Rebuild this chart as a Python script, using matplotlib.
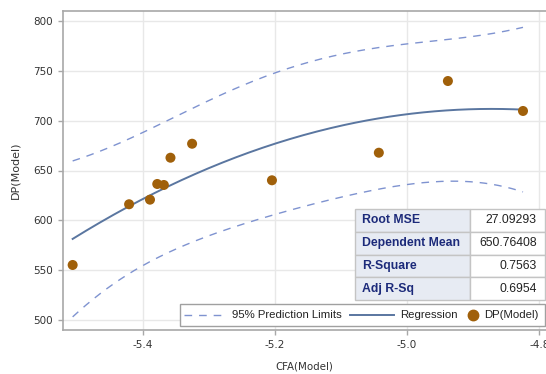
"""
Quadratic fit plot of DP(Model) against CFA(Model) with 95% prediction limits
and a small table of fit statistics.
"""

import numpy as np
import matplotlib
matplotlib.use("Agg")
import matplotlib.pyplot as plt
from matplotlib.patches import Rectangle

cfa = [-5.506, -5.4206, -5.389, -5.378, -5.368, -5.358, -5.3253,
       -5.2045, -5.0428, -4.9383, -4.8247]
dp = [555.4, 616.2, 620.8, 636.5, 635.5, 662.8, 676.8,
      640.2, 667.8, 739.6, 709.6]

# Fit statistics shown in the inset table
stat_labels = ["Root MSE", "Dependent Mean", "R-Square", "Adj R-Sq"]
stat_values = ["27.09293", "650.76408", "0.7563", "0.6954"]

legend_labels = ["95% Prediction Limits", "Regression", "DP(Model)"]

x_ticks = [-5.4, -5.2, -5.0, -4.8]
x_tick_labels = ["-5.4", "-5.2", "-5.0", "-4.8"]
y_ticks = [500, 550, 600, 650, 700, 750, 800]

T_975_DF8 = 2.306  # t quantile for 95% limits, n - 3 = 8 df

MARKER_COLOR = "#a0600a"
FIT_COLOR = "#5a76a0"
LIMIT_COLOR = "#7f93d0"
NAVY = "#1c2a7a"
SPINE_COLOR = "#a8a8a8"
TEXT_COLOR = "#333333"
DASHES = (5.5, 5)
NARROW = ["Liberation Sans Narrow", "Liberation Sans", "DejaVu Sans"]

# Axes box in figure pixels (546 x 374 canvas)
AX_LEFT, AX_RIGHT, AX_TOP, AX_BOTTOM = 63, 546, 11, 330


def quadratic_fit(x, y, x_new):
    """Least squares quadratic with 95% prediction limits at x_new."""
    x = np.asarray(x)
    y = np.asarray(y)
    X = np.column_stack([np.ones_like(x), x, x ** 2])
    beta, *_ = np.linalg.lstsq(X, y, rcond=None)
    resid = y - X @ beta
    s2 = resid @ resid / (len(x) - 3)
    xtx_inv = np.linalg.inv(X.T @ X)
    X0 = np.column_stack([np.ones_like(x_new), x_new, x_new ** 2])
    y_hat = X0 @ beta
    lev = np.einsum("ij,jk,ik->i", X0, xtx_inv, X0)
    half = T_975_DF8 * np.sqrt(s2 * (1 + lev))
    return y_hat, y_hat - half, y_hat + half


def ax_frac(px, py):
    """Convert figure pixel position to axes fraction."""
    return ((px - AX_LEFT) / (AX_RIGHT - AX_LEFT),
            (AX_BOTTOM - py) / (AX_BOTTOM - AX_TOP))


def draw_legend(ax, labels):
    """Single-row legend box in the lower right, laid out like the SAS one."""
    x0, y0 = ax_frac(180, 326)
    x1, y1 = ax_frac(545, 304)
    ax.add_patch(Rectangle((x0, y0), x1 - x0, y1 - y0, transform=ax.transAxes,
                           facecolor="white", edgecolor="#a0a0a0", lw=1.0,
                           zorder=6))
    ymid = (y0 + y1) / 2
    a, _ = ax_frac(184, 0)
    b, _ = ax_frac(227, 0)
    ax.plot([a, b], [ymid, ymid], transform=ax.transAxes, color=LIMIT_COLOR,
            lw=1.0, dashes=DASHES, zorder=7, clip_on=False)
    a, _ = ax_frac(350, 0)
    b, _ = ax_frac(394, 0)
    ax.plot([a, b], [ymid, ymid], transform=ax.transAxes, color=FIT_COLOR,
            lw=1.4, zorder=7, clip_on=False)
    m, _ = ax_frac(473, 0)
    ax.plot([m], [ymid], transform=ax.transAxes, ls="none", marker="o", ms=7.5,
            color=MARKER_COLOR, zorder=7, clip_on=False)
    for px, label in zip([232, 400, 484], labels):
        tx, _ = ax_frac(px, 0)
        ax.text(tx, ymid, label, transform=ax.transAxes, ha="left",
                va="center", fontsize=8.2, family=NARROW, color="#222222",
                zorder=8)


plt.rcParams["font.family"] = ["DejaVu Sans"]
plt.rcParams["axes.unicode_minus"] = False

fig = plt.figure(figsize=(5.46, 3.74), dpi=100)
ax = fig.add_axes([AX_LEFT / 546, 1 - AX_BOTTOM / 374,
                   (AX_RIGHT - AX_LEFT) / 546, (AX_BOTTOM - AX_TOP) / 374])

x_grid = np.linspace(min(cfa), max(cfa), 200)
fit, lower, upper = quadratic_fit(cfa, dp, x_grid)

ax.plot(x_grid, upper, color=LIMIT_COLOR, lw=1.0, dashes=DASHES, zorder=2)
ax.plot(x_grid, lower, color=LIMIT_COLOR, lw=1.0, dashes=DASHES, zorder=2)
ax.plot(x_grid, fit, color=FIT_COLOR, lw=1.4, zorder=3)
ax.scatter(cfa, dp, s=52, color=MARKER_COLOR, edgecolors="none", zorder=4)

ax.set_xlim(-5.5206, -4.7899)
ax.set_ylim(490.3, 809.7)
ax.set_xticks(x_ticks)
ax.set_xticklabels(x_tick_labels)
ax.set_yticks(y_ticks)
ax.tick_params(labelsize=7.5, labelcolor=TEXT_COLOR, color=SPINE_COLOR,
               length=3.5, width=1.0, pad=4)
ax.grid(True, color="#e8e8e8", lw=1.0, zorder=0)
ax.set_axisbelow(True)

for side in ["left", "bottom", "top"]:
    ax.spines[side].set_color(SPINE_COLOR)
    ax.spines[side].set_linewidth(1.2)
ax.spines["right"].set_visible(False)

ax.set_xlabel("CFA(Model)", fontsize=7.4, color=TEXT_COLOR, labelpad=8)
ax.set_ylabel("DP(Model)", fontsize=8.0, color=TEXT_COLOR, labelpad=9)

# Fit statistics table
tbl = ax.table(cellText=[[l, v] for l, v in zip(stat_labels, stat_values)],
               colWidths=[0.605, 0.395],
               bbox=[0.6046, 0.094, 0.3934, 0.285], zorder=5)
tbl.auto_set_font_size(False)
for (r, c), cell in tbl.get_celld().items():
    cell.set_edgecolor("#c4c4c4")
    cell.set_linewidth(1.0)
    txt = cell.get_text()
    txt.set_fontsize(8.8)
    txt.set_family(["Liberation Sans", "DejaVu Sans"])
    if c == 0:
        cell.set_facecolor("#e7ebf3")
        txt.set_color(NAVY)
        txt.set_fontweight("bold")
        txt.set_ha("left")
        cell.PAD = 0.06
    else:
        cell.set_facecolor("white")
        txt.set_color("#222222")
        txt.set_ha("right")
        cell.PAD = 0.11

draw_legend(ax, legend_labels)

fig.savefig("out.png", dpi=100, facecolor="white")
